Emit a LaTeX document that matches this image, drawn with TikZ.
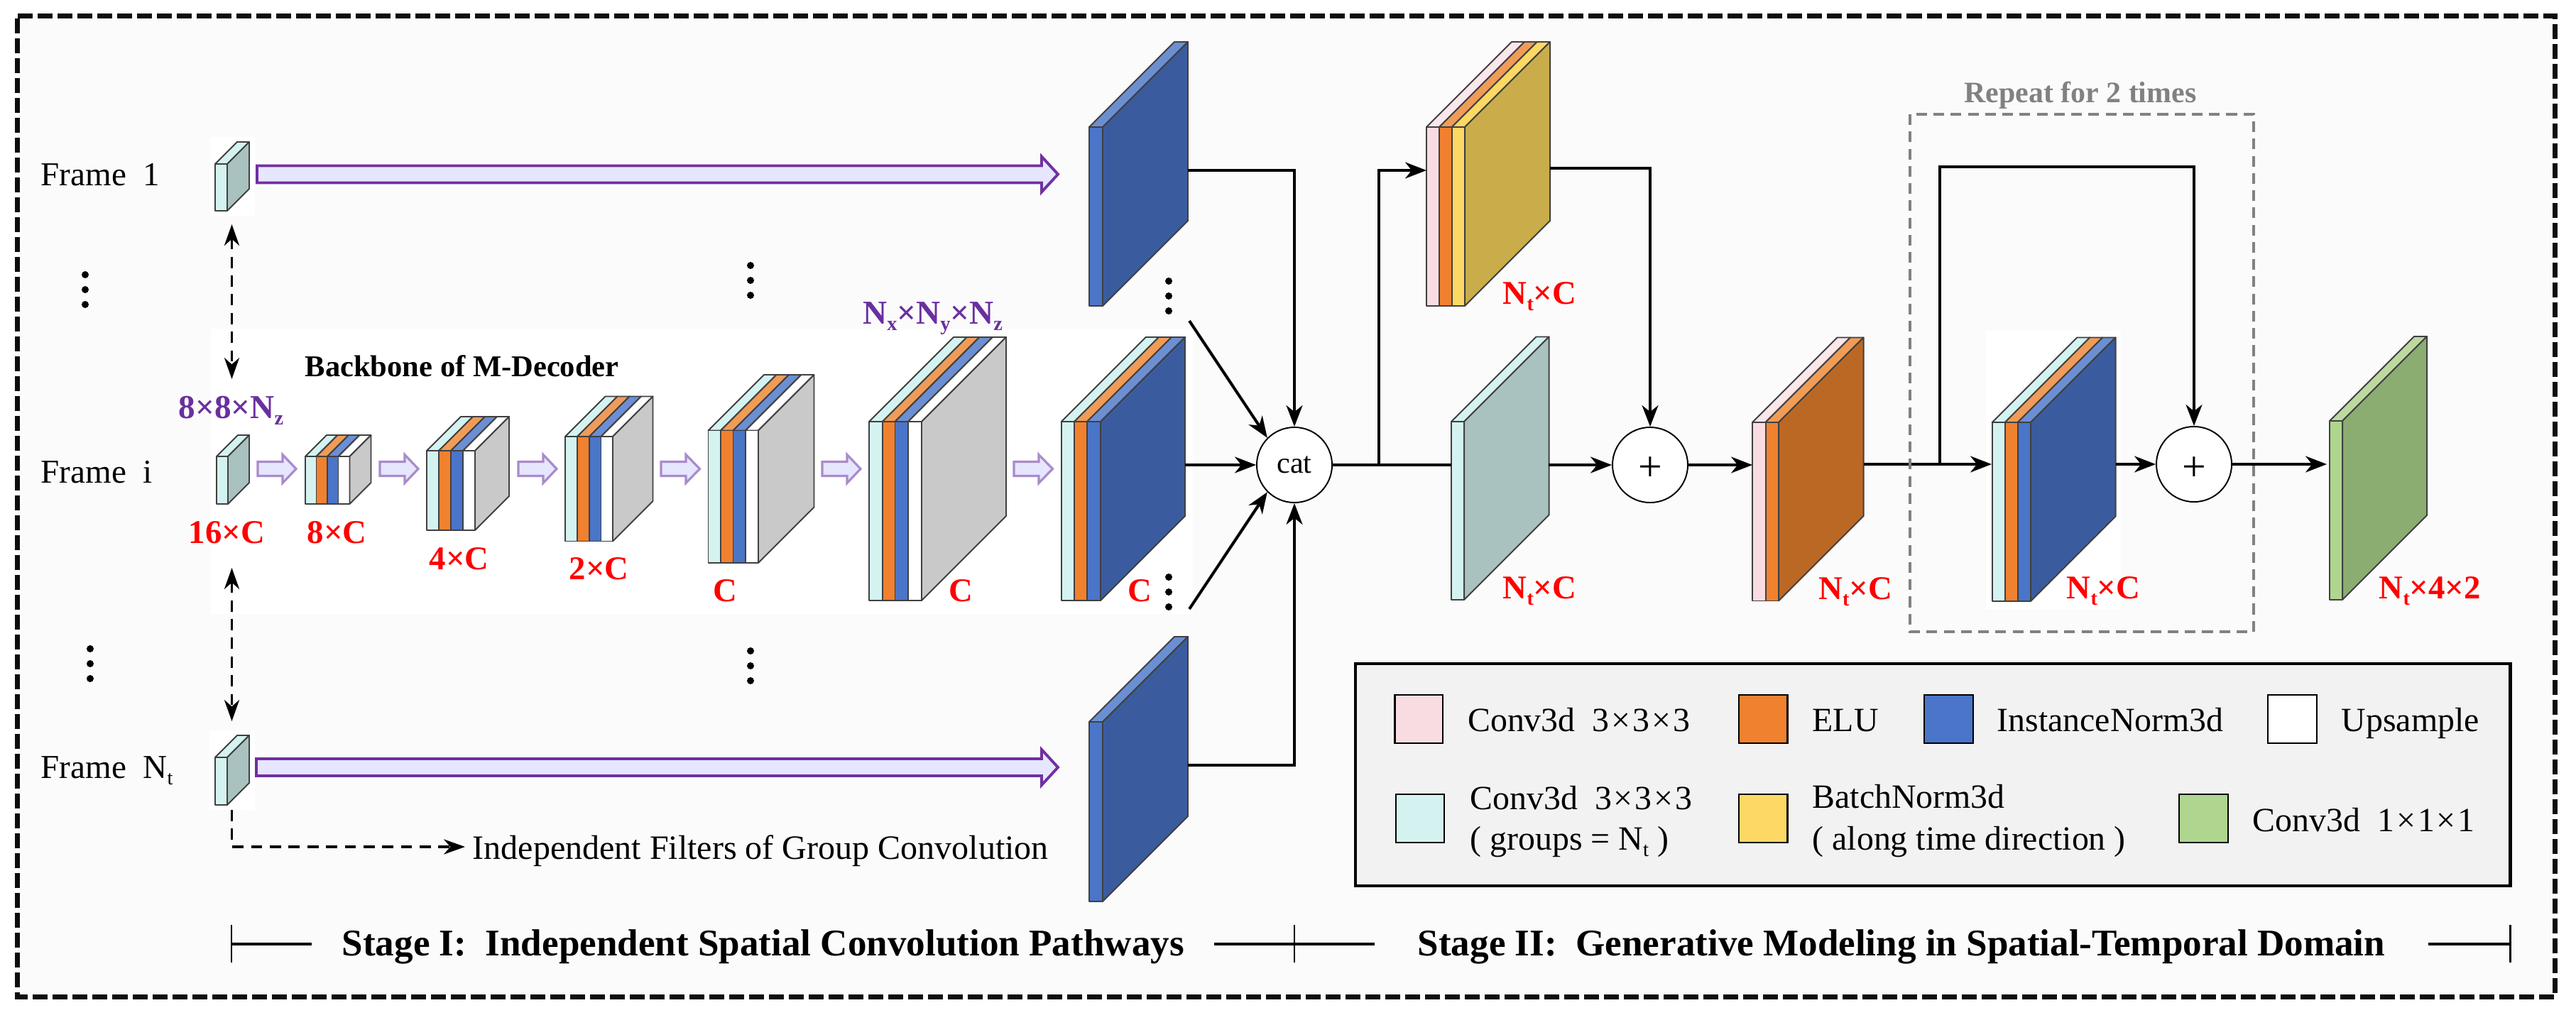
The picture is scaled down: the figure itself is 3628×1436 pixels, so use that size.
\documentclass[tikz,border=0pt]{standalone}
\usepackage{fontspec}
\setmainfont{Liberation Serif}
\usetikzlibrary{arrows.meta}
\definecolor{cTeal}{HTML}{D4F3F0}
\definecolor{cTealS}{HTML}{A9C2BF}
\definecolor{cOr}{HTML}{F0812F}
\definecolor{cOrT}{HTML}{F09C58}
\definecolor{cOrS}{HTML}{BC6825}
\definecolor{cBl}{HTML}{4A75C8}
\definecolor{cBlT}{HTML}{6C8FD3}
\definecolor{cBlS}{HTML}{3A5C9F}
\definecolor{cGr}{HTML}{C9C9C9}
\definecolor{cPk}{HTML}{F9DCE2}
\definecolor{cYe}{HTML}{FDD864}
\definecolor{cYeS}{HTML}{C9AD4B}
\definecolor{cGn}{HTML}{AFD68F}
\definecolor{cGnT}{HTML}{BDD9A0}
\definecolor{cGnS}{HTML}{8BAD72}
\definecolor{cPu}{HTML}{7030A0}
\definecolor{cPuL}{HTML}{E6E6FF}
\definecolor{cPuM}{HTML}{A98BCB}
\definecolor{cLbl}{HTML}{6A2FA0}
\definecolor{cFrame}{HTML}{0D0D0D}
\newcommand{\layer}[7]{%
  \filldraw[blockedge,fill=#7] (#1,#3) -- ({#1+#5},{#3-#5}) -- ({#2+#5},{#3-#5}) -- (#2,#3) -- cycle;
  \filldraw[blockedge,fill=#6] (#1,#3) rectangle (#2,#4);}
\newcommand{\sideface}[5]{%
  \filldraw[blockedge,fill=#5] (#1,#2) -- ({#1+#4},{#2-#4}) -- ({#1+#4},{#3-#4}) -- (#1,#3) -- cycle;}
\newcommand{\fatarrow}[7]{% x1 x2 yc halfband headstart halfhead style
  \filldraw[#7] (#1,{#3-#4}) -- (#5,{#3-#4}) -- (#5,{#3-#6}) -- (#2,#3) -- (#5,{#3+#6}) -- (#5,{#3+#4}) -- (#1,{#3+#4}) -- cycle;}
\newcommand{\dotcol}[4]{%
  \fill (#1,#2) circle (5); \fill (#1,#3) circle (5); \fill (#1,#4) circle (5);}
\newcommand{\fsz}[1]{\fontsize{#1}{#1}\selectfont}
\newcommand{\lsub}[1]{\raisebox{-0.2em}{\scalebox{.6}{#1}}}
\newcommand{\mx}{\kern.85pt×\kern.85pt}
\tikzset{
  x=0.01cm,y=-0.01cm,
  blockedge/.style={draw=black!75,line width=0.55pt,line join=round},
  conn/.style={line width=1.15pt,-{Stealth[length=8.5pt,width=6.5pt,inset=2.6pt]}},
  wire/.style={line width=1.15pt},
  dashconn/.style={line width=1pt,dash pattern=on 4.5pt off 3pt},
  bigarrow/.style={draw=cPu,fill=cPuL,line width=1.1pt,line join=miter},
  smallarrow/.style={draw=cPuM,fill=cPuL,line width=0.9pt,line join=miter},
  circ/.style={circle,draw=black,fill=white,line width=0.55pt,minimum size=1.06cm,inner sep=0pt},
  plussym/.style={inner sep=0pt,font=\fsz{17pt}},
  txt/.style={anchor=base west,inner sep=0pt,font=\fsz{13.4pt}},
  red lbl/.style={anchor=base west,inner sep=0pt,text=red,font=\fsz{13.3pt}\bfseries},
  pur lbl/.style={anchor=base west,inner sep=0pt,text=cLbl,font=\fsz{13.4pt}\bfseries},
  swatch/.style={draw=black,line width=0.6pt},
  lgd/.style={anchor=base west,inner sep=0pt,font=\fsz{13.6pt}},
  stage/.style={anchor=base west,inner sep=0pt,font=\fsz{15.1pt}\bfseries},
}
\begin{document}
\begin{tikzpicture}
\useasboundingbox (0,0) rectangle (3628,1436);
\fill[white] (0,0) rectangle (3628,1436);
\fill[black!1.5] (24.5,22.5) rectangle (3598.5,1404.5);
\draw[cFrame,line width=2pt,dash pattern=on 5.975pt off 1.99pt] (24.5,22.5) -- (3598.5,22.5) -- (3598.5,1404.5) -- (24.5,1404.5) -- cycle;
% white patches
\fill[white] (297,463) rectangle (1680,865);
\fill[white] (296,193) rectangle (359,304);
\fill[white] (295,1029) rectangle (359,1141);
\fill[white] (2797,466) rectangle (2987,858);

% ---- first column
\layer{303}{320}{231}{297}{31}{cTeal}{cTeal}\sideface{320}{231}{297}{31}{cTealS}
\layer{305}{321}{643}{710}{30}{cTeal}{cTeal}\sideface{321}{643}{710}{30}{cTealS}
\layer{303}{320}{1067}{1134}{31}{cTeal}{cTeal}\sideface{320}{1067}{1134}{31}{cTealS}
% ---- backbone
\layer{430}{445.5}{643}{710}{30}{cTeal}{cTeal}\layer{445.5}{461}{643}{710}{30}{cOr}{cOrT}\layer{461}{476.5}{643}{710}{30}{cBl}{cBlT}\layer{476.5}{492.5}{643}{710}{30}{white}{white}\sideface{492.5}{643}{710}{30}{cGr}
\layer{601}{618}{635}{747}{48}{cTeal}{cTeal}\layer{618}{635}{635}{747}{48}{cOr}{cOrT}\layer{635}{652}{635}{747}{48}{cBl}{cBlT}\layer{652}{669}{635}{747}{48}{white}{white}\sideface{669}{635}{747}{48}{cGr}
\layer{796}{813}{615}{762.5}{56.5}{cTeal}{cTeal}\layer{813}{830}{615}{762.5}{56.5}{cOr}{cOrT}\layer{830}{846.5}{615}{762.5}{56.5}{cBl}{cBlT}\layer{846.5}{863}{615}{762.5}{56.5}{white}{white}\sideface{863}{615}{762.5}{56.5}{cGr}
\layer{997.5}{1015}{606.5}{793}{78.5}{cTeal}{cTeal}\layer{1015}{1032.5}{606.5}{793}{78.5}{cOr}{cOrT}\layer{1032.5}{1050}{606.5}{793}{78.5}{cBl}{cBlT}\layer{1050}{1068}{606.5}{793}{78.5}{white}{white}\sideface{1068}{606.5}{793}{78.5}{cGr}
\layer{1224}{1242.6}{594}{846}{119}{cTeal}{cTeal}\layer{1242.6}{1260.5}{594}{846}{119}{cOr}{cOrT}\layer{1260.5}{1279}{594}{846}{119}{cBl}{cBlT}\layer{1279}{1298}{594}{846}{119}{white}{white}\sideface{1298}{594}{846}{119}{cGr}
\layer{1494.6}{1513}{594}{846}{119}{cTeal}{cTeal}\layer{1513}{1531}{594}{846}{119}{cOr}{cOrT}\layer{1531}{1550}{594}{846}{119}{cBl}{cBlT}\sideface{1550}{594}{846}{119}{cBlS}
% ---- other pathways
\layer{1534}{1553}{179}{431}{120}{cBl}{cBlT}\sideface{1553}{179}{431}{120}{cBlS}
\layer{1534}{1553}{1017}{1270}{120}{cBl}{cBlT}\sideface{1553}{1017}{1270}{120}{cBlS}
% ---- stage II
\layer{2009}{2027}{179}{431}{120}{cPk}{cPk!70!white}\layer{2027}{2044.6}{179}{431}{120}{cOr}{cOrT}\layer{2044.6}{2063}{179}{431}{120}{cYe}{cYe}\sideface{2063}{179}{431}{120}{cYeS}
\layer{2044}{2062}{594}{845}{119.5}{cTeal}{cTeal}\sideface{2062}{594}{845}{119.5}{cTealS}
\layer{2468}{2486.5}{595}{846.5}{119.5}{cPk}{cPk!70!white}\layer{2486.5}{2505}{595}{846.5}{119.5}{cOr}{cOrT}\sideface{2505}{595}{846.5}{119.5}{cOrS}
\layer{2805.6}{2823.6}{595}{847}{119.5}{cTeal}{cTeal}\layer{2823.6}{2841.6}{595}{847}{119.5}{cOr}{cOrT}\layer{2841.6}{2860}{595}{847}{119.5}{cBl}{cBlT}\sideface{2860}{595}{847}{119.5}{cBlS}
\layer{3281}{3299}{593}{845}{119}{cGn}{cGnT}\sideface{3299}{593}{845}{119}{cGnS}

% ---- fat arrows
\fatarrow{362}{1490}{245.5}{12}{1467}{25}{bigarrow}
\fatarrow{361}{1490}{1081}{12}{1467}{25}{bigarrow}
\fatarrow{363}{417}{660.5}{10}{398}{20}{smallarrow}
\fatarrow{535}{589}{660.5}{10}{570}{20}{smallarrow}
\fatarrow{730}{784}{660.5}{10}{765}{20}{smallarrow}
\fatarrow{931}{985.5}{660.5}{10}{966}{20}{smallarrow}
\fatarrow{1158}{1212}{660.5}{10}{1193}{20}{smallarrow}
\fatarrow{1428}{1482.5}{660.5}{10}{1463}{20}{smallarrow}

% ---- dots
\dotcol{120}{387}{408}{429}
\dotcol{127}{914}{935}{956}
\dotcol{1057}{374}{395}{416}
\dotcol{1057}{917}{938}{959}
\dotcol{1646}{396}{417}{438}
\dotcol{1646}{813}{834}{855}

% ---- circles
\node[circ,font=\fsz{12pt}] (cat) at (1823,655) {cat};
\node[circ] (plusA) at (2324,655) {};
\node[circ] (plusB) at (3090,654) {};
\node[plussym] (plusAsym) at (2324,661) {+};
\node[plussym] (plusBsym) at (3090,661) {+};

% ---- ports
\coordinate (blueTopOut) at (1673,240);
\coordinate (blueBotOut) at (1673,1078);
\coordinate (blueMidOut) at (1669,655);
\coordinate (diagA) at (1675,452);
\coordinate (diagB) at (1675,858);
\coordinate (splitA) at (1942,655);
\coordinate (yelIn) at (2009,240);
\coordinate (yelOut) at (2183,237);
\coordinate (tealIn) at (2044,655);
\coordinate (tealOut) at (2181,655);
\coordinate (pinkIn) at (2468,655);
\coordinate (pinkOut) at (2625,654);
\coordinate (tripIn) at (2805,654);
\coordinate (tripOut) at (2980,654);
\coordinate (splitB) at (2732,654);
\coordinate (loopTop) at (2732,235);
\coordinate (greenIn) at (3277,654);
\coordinate (dashA1) at (326.5,316);
\coordinate (dashA2) at (326.5,534);
\coordinate (dashB1) at (326.5,800);
\coordinate (dashB2) at (326.5,1016);
\coordinate (dashC1) at (326.5,1141);
\coordinate (dashC2) at (326.5,1193);
\coordinate (dashC3) at (655,1193);

% ---- connectors
\draw[conn] (blueTopOut) -| (cat.north);
\draw[conn] (blueBotOut) -| (cat.south);
\draw[conn] (blueMidOut) -- (cat.west);
\draw[conn] (diagA) -- (cat.north west);
\draw[conn] (diagB) -- (cat.south west);
\draw[wire] (cat.east) -- (tealIn);
\draw[conn] (splitA) |- (yelIn);
\draw[conn] (yelOut) -| (plusA.north);
\draw[conn] (tealOut) -- (plusA.west);
\draw[conn] (plusA.east) -- (pinkIn);
\draw[conn] (pinkOut) -- (tripIn);
\draw[conn] (tripOut) -- (plusB.west);
\draw[conn] (plusB.east) -- (greenIn);
\draw[conn] (splitB) -- (loopTop) -| (plusB.north);

\draw[dashconn,{Stealth[length=8.5pt,width=6pt,inset=2.6pt]}-{Stealth[length=8.5pt,width=6pt,inset=2.6pt]}] (dashA1) -- (dashA2);
\draw[dashconn,{Stealth[length=8.5pt,width=6pt,inset=2.6pt]}-{Stealth[length=8.5pt,width=6pt,inset=2.6pt]}] (dashB1) -- (dashB2);
\draw[dashconn,-{Stealth[length=8.5pt,width=6pt,inset=2.6pt]}] (dashC1) -- (dashC2) -- (dashC3);

% ---- repeat box
\draw[cFrame!52,line width=1.1pt,dash pattern=on 4.3pt off 2.6pt] (2690,161) rectangle (3174,890);
\node[anchor=base west,inner sep=0pt,text=cFrame!52,font=\fsz{11.9pt}\bfseries] (repeatLbl) at (2766,144) {Repeat for 2 times};

% ---- texts
\node[txt] (frameA) at (57,261.5) {Frame\ \ 1};
\node[txt] (frameB) at (57,680) {Frame\ \ i};
\node[txt] (frameC) at (57,1096.5) {Frame\ \ N\lsub{t}};
\node[txt,font=\fsz{13.66pt}] (indep) at (665,1210) {Independent Filters of Group Convolution};
\node[anchor=base west,inner sep=0pt,font=\fsz{12.1pt}\bfseries] (backbone) at (429,530) {Backbone of M-Decoder};
\node[pur lbl] (dimA) at (251,589) {8×8×N\lsub{z}};
\node[pur lbl] (dimB) at (1214.5,456) {N\lsub{x}×N\lsub{y}×N\lsub{z}};
\node[red lbl] (la) at (265,765) {16×C};
\node[red lbl] (lb) at (432,765) {8×C};
\node[red lbl] (lc) at (604,802.5) {4×C};
\node[red lbl] (ld) at (801,816.5) {2×C};
\node[red lbl] (le) at (1004,847) {C};
\node[red lbl] (lf) at (1336,847) {C};
\node[red lbl] (lg) at (1588,847) {C};
\node[red lbl] (lh) at (2116,428) {N\lsub{t}×C};
\node[red lbl] (li) at (2116,843) {N\lsub{t}×C};
\node[red lbl] (lj) at (2560.5,844) {N\lsub{t}×C};
\node[red lbl] (lk) at (2910,843) {N\lsub{t}×C};
\node[red lbl] (ll) at (3350,843) {N\lsub{t}×4×2};

% ---- legend
\filldraw[draw=black,fill=black!5,line width=1.2pt] (1909,935) rectangle (3535.5,1248);
\filldraw[swatch,fill=cPk] (1964.5,979) rectangle (2032,1047);
\filldraw[swatch,fill=cOr] (2449,979) rectangle (2517.5,1047);
\filldraw[swatch,fill=cBl] (2710,979) rectangle (2779,1047);
\filldraw[swatch,fill=white] (3194,979) rectangle (3263,1047);
\filldraw[swatch,fill=cTeal] (1966,1119) rectangle (2034,1187);
\filldraw[swatch,fill=cYe] (2449,1119) rectangle (2517.5,1187);
\filldraw[swatch,fill=cGn] (3069,1119) rectangle (3138,1187);
\node[lgd] (ta) at (2066.5,1030) {Conv3d\ \ 3\mx 3\mx 3};
\node[lgd] (tb) at (2552,1030) {ELU};
\node[lgd] (tc) at (2812,1030) {InstanceNorm3d};
\node[lgd] (td) at (3297,1030) {Upsample};
\node[lgd] (te) at (2070,1140) {Conv3d\ \ 3\mx 3\mx 3};
\node[lgd] (tf) at (2070,1197) {( groups = N\lsub{t} )};
\node[lgd] (tg) at (2552,1138) {BatchNorm3d};
\node[lgd] (th) at (2552,1197) {( along time direction )};
\node[lgd] (ti) at (3172,1171) {Conv3d\ \ 1\mx 1\mx 1};

% ---- stage bar
\node[stage] (stageA) at (481,1346) {Stage I:\ \ Independent Spatial Convolution Pathways};
\node[stage] (stageB) at (1996,1346) {Stage II:\ \ Generative Modeling in Spatial-Temporal Domain};
\coordinate (barL) at (326,1329.5);
\coordinate (barLe) at (439,1329.5);
\coordinate (barMl) at (1710,1329.5);
\coordinate (barMr) at (1936,1329.5);
\coordinate (barRe) at (3419.5,1329.5);
\coordinate (barR) at (3535.5,1329.5);
\draw[line width=0.8pt] (326,1303) -- (326,1356);
\draw[line width=0.8pt] (1823,1303) -- (1823,1356);
\draw[line width=0.8pt] (3535.5,1303) -- (3535.5,1356);
\draw[wire] (barL) -- (barLe);
\draw[wire] (barMl) -- (barMr);
\draw[wire] (barRe) -- (barR);
\end{tikzpicture}
\end{document}
